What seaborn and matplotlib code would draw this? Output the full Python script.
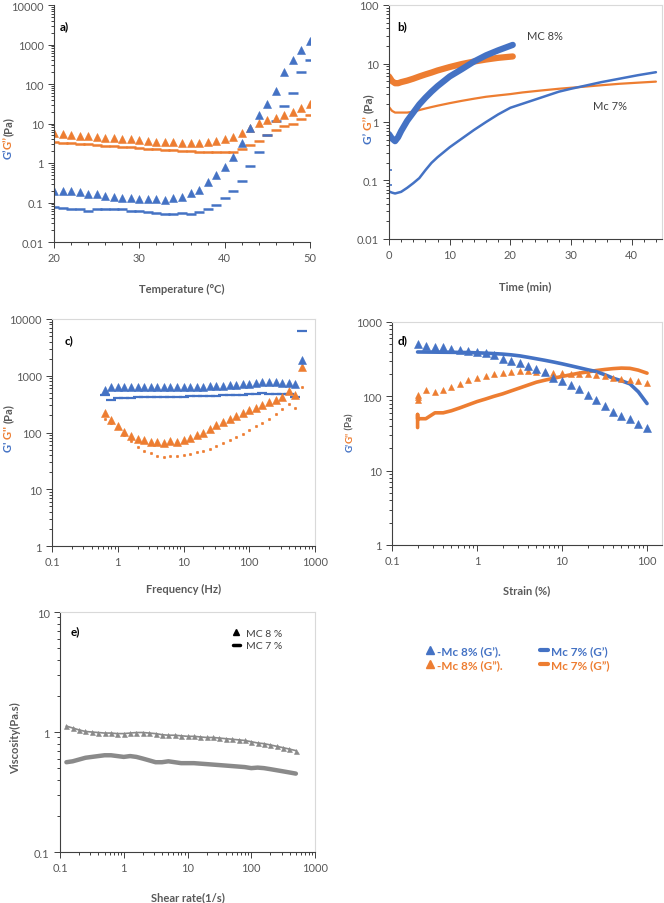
import numpy as np
import pandas as pd
import matplotlib
matplotlib.use("Agg")
import matplotlib.pyplot as plt
import seaborn as sns
from matplotlib.ticker import LogLocator, FuncFormatter, NullFormatter, MultipleLocator
from matplotlib.lines import Line2D

# ---------------- data ----------------
# a) temperature sweep
temp = list(range(20, 51))
a_g1_8 = [0.19, 0.19, 0.19, 0.18, 0.16, 0.16, 0.15, 0.14, 0.13, 0.13, 0.125, 0.125, 0.12, 0.115, 0.13,
          0.14, 0.17, 0.21, 0.33, 0.5, 0.8, 1.45, 3.2, 7.7, 16.5, 32, 65, 200, 405, 720, 1200]
a_g1_7 = [0.076, 0.074, 0.068, 0.068, 0.062, 0.07, 0.07, 0.068, 0.068, 0.06, 0.06, 0.057, 0.055, 0.051, 0.05,
          0.053, 0.05, 0.057, 0.067, 0.085, 0.13, 0.2, 0.36, 0.85, 1.9, 5.0, 11.7, 27, 60, 200, 415]
a_g2_8 = [5.6, 5.4, 5.1, 4.8, 4.8, 4.5, 4.2, 4.2, 4.0, 4.0, 3.8, 3.6, 3.5, 3.4, 3.4,
          3.2, 3.2, 3.2, 3.4, 3.6, 4.0, 4.5, 5.8, 7.8, 10.5, 12.5, 14, 16.5, 20, 25, 32]
a_g2_7 = [3.4, 3.3, 3.2, 3.0, 3.0, 2.8, 2.7, 2.7, 2.55, 2.55, 2.4, 2.3, 2.3, 2.15, 2.15,
          2.0, 2.0, 1.9, 1.9, 1.9, 1.9, 1.95, 2.2, 2.8, 3.6, 5.0, 6.8, 8.5, 9.8, 13, 16.5]

# b) time sweep
b_t8 = [0, 0.5, 1, 1.5, 2, 3, 4, 5, 6, 7, 8, 10, 12, 14, 16, 18, 20.4]
b_g1_8 = [0.62, 0.52, 0.47, 0.55, 0.7, 1.05, 1.45, 2.0, 2.6, 3.3, 4.1, 6.0, 8.0, 10.8, 13.8, 16.8, 20.8]
b_g2_8 = [6.0, 5.0, 4.6, 4.6, 4.8, 5.1, 5.5, 6.0, 6.5, 7.0, 7.6, 8.7, 9.8, 10.8, 11.7, 12.5, 13.2]
b_t7 = [0, 0.5, 1, 2, 3, 4, 5, 6, 7, 8, 10, 12, 14, 16, 18, 20, 22, 25, 28, 30, 32, 35, 38, 41, 44]
b_g1_7 = [0.065, 0.062, 0.06, 0.064, 0.075, 0.09, 0.11, 0.15, 0.2, 0.25, 0.37, 0.52, 0.73, 1.0, 1.35,
          1.75, 2.05, 2.6, 3.3, 3.7, 4.1, 4.8, 5.5, 6.3, 7.1]
b_g2_7 = [1.8, 1.55, 1.45, 1.45, 1.45, 1.5, 1.6, 1.7, 1.8, 1.9, 2.1, 2.3, 2.5, 2.7, 2.85,
          3.0, 3.2, 3.45, 3.7, 3.85, 4.0, 4.25, 4.5, 4.7, 4.9]
b_start_t = [0, 0]
b_start_g1_7 = [0.15, 0.085]

# c) frequency sweep
freq = [0.63, 0.79, 1.0, 1.26, 1.58, 2.0, 2.51, 3.16, 3.98, 5.01, 6.31, 7.94, 10, 12.6, 15.8, 20,
        25.1, 31.6, 39.8, 50.1, 63.1, 79.4, 100, 126, 158, 200, 251, 316, 398, 501, 631]
c_g1_8 = [550, 630, 630, 630, 625, 625, 625, 625, 625, 625, 625, 625, 625, 630, 635, 645,
          650, 655, 665, 680, 690, 705, 720, 750, 790, 790, 770, 750, 740, 720, 1930]
c_g1_7 = [460, 380, 400, 405, 410, 415, 415, 420, 420, 420, 425, 425, 430, 435, 435, 440,
          440, 445, 450, 455, 460, 465, 470, 475, 490, 485, 480, 475, 470, 420, 6200]
c_g2_8 = [222, 166, 129, 101, 86, 78, 73, 68, 67, 65, 70, 68, 74, 80, 92, 100,
          113, 136, 155, 170, 193, 218, 245, 275, 310, 340, 380, 430, 530, 450, 1400]
c_g2_7 = [175, 150, 118, 90, 70, 55, 48, 43, 38, 37, 38, 38, 40, 42, 45, 48,
          52, 58, 65, 73, 82, 95, 110, 128, 150, 175, 210, 260, 320, 270, 630]

# d) strain sweep
strain = [0.2, 0.25, 0.32, 0.4, 0.5, 0.63, 0.79, 1.0, 1.26, 1.58, 2.0, 2.5, 3.2, 4.0,
          5.0, 6.3, 7.9, 10, 12.6, 15.8, 20, 25, 32, 40, 50, 63, 79, 100]
d_g1_8 = [510, 470, 455, 455, 437, 424, 407, 394, 378, 355, 320, 300, 277, 252,
          230, 212, 179, 163, 143, 124, 103, 88, 73, 62, 55, 49, 43, 38]
d_g1_7 = [395, 394, 393, 392, 391, 390, 388, 385, 381, 376, 370, 362, 350, 335,
          320, 305, 290, 274, 258, 243, 228, 216, 195, 175, 162, 147, 115, 80]
d_g2_8 = [97, 120, 114, 123, 133, 147, 166, 176, 187, 197, 205, 211, 216, 216,
          211, 211, 207, 203, 201, 200, 200, 195, 185, 176, 172, 166, 161, 150]
d_g2_7 = [50, 50, 60, 60, 64, 70, 77, 85, 92, 100, 108, 118, 130, 142,
          155, 165, 175, 185, 195, 205, 213, 222, 230, 236, 240, 238, 225, 205]
d_start_x = [0.2, 0.2]
d_start_g2_8 = [88, 105]
d_start_g2_7 = [38, 57]

# e) flow curve
shear = [0.126, 0.158, 0.2, 0.251, 0.316, 0.398, 0.501, 0.631, 0.794, 1.0, 1.26, 1.58, 2.0,
         2.51, 3.16, 3.98, 5.01, 6.31, 7.94, 10, 12.6, 15.8, 20, 25.1, 31.6, 39.8, 50.1,
         63.1, 79.4, 100, 126, 158, 200, 251, 316, 398, 501]
e_visc_8 = [1.12, 1.08, 1.04, 1.01, 1.0, 0.99, 0.98, 0.98, 0.97, 0.97, 0.98, 0.99, 0.99,
            0.98, 0.97, 0.95, 0.94, 0.94, 0.93, 0.92, 0.92, 0.91, 0.9, 0.9, 0.89, 0.88, 0.87,
            0.86, 0.85, 0.83, 0.81, 0.8, 0.78, 0.76, 0.74, 0.72, 0.70]
e_visc_7 = [0.56, 0.57, 0.59, 0.61, 0.62, 0.63, 0.64, 0.64, 0.63, 0.62, 0.63, 0.62, 0.60,
            0.58, 0.56, 0.56, 0.57, 0.56, 0.55, 0.55, 0.55, 0.545, 0.54, 0.535, 0.53, 0.525, 0.52,
            0.515, 0.51, 0.50, 0.505, 0.50, 0.49, 0.48, 0.47, 0.46, 0.45]

# ---------------- style ----------------
sns.set_style("ticks")
plt.rcParams['font.family'] = ['Lato', 'DejaVu Sans']

BLUE = '#4472C4'
ORANGE = '#ED7D31'
TXT = '#595959'
GRAY = '#8A8A8A'
W, H = 664, 904

fig = plt.figure(figsize=(W / 100, H / 100), dpi=100)


def px_axes(x0, y0, x1, y1):
    return fig.add_axes([x0 / W, 1 - y1 / H, (x1 - x0) / W, (y1 - y0) / H])


def log_axis(axis):
    axis.set_major_locator(LogLocator(10))
    axis.set_minor_locator(LogLocator(10, subs=np.arange(2, 10)))
    axis.set_major_formatter(FuncFormatter(lambda v, p: f'{v:g}'))
    axis.set_minor_formatter(NullFormatter())


def decorate(ax, xlabel, pad, box=True):
    ax.tick_params(which='both', colors='#404040', labelcolor=TXT, labelsize=8, width=0.7)
    ax.tick_params(which='major', length=4)
    ax.tick_params(which='minor', length=2)
    for s in ['left', 'bottom']:
        ax.spines[s].set_color('#404040')
        ax.spines[s].set_linewidth(0.8)
    for s in ['top', 'right']:
        ax.spines[s].set_color('#D9D9D9')
        ax.spines[s].set_linewidth(0.8)
        ax.spines[s].set_visible(box)
    ax.set_xlabel(xlabel, fontsize=8, fontweight='bold', color=TXT, labelpad=pad)
    ax.set_ylabel('')


def pts(ax, x, y, color, marker, ms, mew=0.4):
    sns.lineplot(x=x, y=y, ax=ax, color=color, marker=marker, markersize=ms,
                 markeredgewidth=mew, markeredgecolor=color, linestyle='none',
                 estimator=None, sort=False, legend=False)


def line(ax, x, y, color, lw):
    sns.lineplot(x=x, y=y, ax=ax, color=color, lw=lw, estimator=None, sort=False, legend=False)


def ylabel_parts(xc, yc, parts, size=8):
    # rotated label built from differently coloured pieces, stacked bottom-up
    r = fig.canvas.get_renderer()
    objs = []
    for s, c in parts:
        t = fig.text(0, 0, s, rotation=90, fontsize=size, fontweight='bold', color=c,
                     ha='center', va='bottom')
        objs.append(t)
    hs = [t.get_window_extent(r).height for t in objs]
    yb = yc + sum(hs) / 2  # pixel from top, bottom end of the label
    for t, h in zip(objs, hs):
        t.set_position((xc / W, 1 - yb / H))
        yb -= h


def panel_label(x, y, s):
    fig.text(x / W, 1 - y / H, s, fontsize=8.5, fontweight='bold', color='black', va='center')


# ---------------- a) ----------------
ax = px_axes(54, 6, 310, 243)
ax.set_yscale('log')
pts(ax, temp, a_g2_7, ORANGE, '_', 6.5, 1.8)
pts(ax, temp, a_g1_7, BLUE, '_', 6.5, 1.8)
pts(ax, temp, a_g2_8, ORANGE, '^', 6)
pts(ax, temp, a_g1_8, BLUE, '^', 6)
ax.set_xlim(20, 50)
ax.set_ylim(0.01, 10000)
ax.xaxis.set_major_locator(MultipleLocator(10))
ax.xaxis.set_minor_locator(MultipleLocator(2))
log_axis(ax.yaxis)
decorate(ax, 'Temperature (°C)', 14, box=False)
panel_label(60, 27, 'a)')

# ---------------- b) ----------------
ax = px_axes(389, 6, 662, 240)
ax.set_yscale('log')
line(ax, b_t7, b_g2_7, ORANGE, 1.6)
line(ax, b_t7, b_g1_7, BLUE, 1.8)
pts(ax, b_start_t, b_start_g1_7, BLUE, '_', 4, 1.2)
line(ax, b_t8, b_g2_8, ORANGE, 4.5)
line(ax, b_t8, b_g1_8, BLUE, 4.5)
ax.set_xlim(0, 45)
ax.set_ylim(0.01, 100)
ax.xaxis.set_major_locator(MultipleLocator(10))
ax.xaxis.set_minor_locator(MultipleLocator(2))
log_axis(ax.yaxis)
decorate(ax, 'Time (min)', 14)
panel_label(397, 27, 'b)')
fig.text(545 / W, 1 - 37 / H, 'MC 8%', fontsize=8, color='#404040', ha='center', va='center')
fig.text(610 / W, 1 - 107 / H, 'Mc 7%', fontsize=8, color='#404040', ha='center', va='center')

# ---------------- c) ----------------
ax = px_axes(52, 320, 315, 547)
ax.set_xscale('log')
ax.set_yscale('log')
pts(ax, freq, c_g2_7, ORANGE, 'o', 1.8)
pts(ax, freq, c_g1_7, BLUE, '_', 7, 1.6)
pts(ax, freq, c_g2_8, ORANGE, '^', 6)
pts(ax, freq, c_g1_8, BLUE, '^', 6)
ax.set_xlim(0.1, 1000)
ax.set_ylim(1, 10000)
log_axis(ax.xaxis)
log_axis(ax.yaxis)
decorate(ax, 'Frequency (Hz)', 11)
panel_label(65, 341, 'c)')

# ---------------- d) ----------------
ax = px_axes(392, 323, 662, 546)
ax.set_xscale('log')
ax.set_yscale('log')
line(ax, d_start_x + strain, d_start_g2_7 + d_g2_7, ORANGE, 2.6)
line(ax, strain, d_g1_7, BLUE, 2.6)
pts(ax, d_start_x + strain, d_start_g2_8 + d_g2_8, ORANGE, '^', 4)
pts(ax, strain, d_g1_8, BLUE, '^', 6)
ax.set_xlim(0.1, 150)
ax.set_ylim(1, 1000)
log_axis(ax.xaxis)
log_axis(ax.yaxis)
decorate(ax, 'Strain (%)', 13)
panel_label(398, 341, 'd)')

# ---------------- e) ----------------
ax = px_axes(60, 613, 315, 853)
ax.set_xscale('log')
ax.set_yscale('log')
line(ax, shear, e_visc_7, GRAY, 3.2)
line(ax, shear, e_visc_8, GRAY, 1.2)
pts(ax, shear, e_visc_8, GRAY, '^', 3.6)
ax.set_xlim(0.1, 1000)
ax.set_ylim(0.1, 10)
log_axis(ax.xaxis)
log_axis(ax.yaxis)
decorate(ax, 'Shear rate(1/s)', 13)
panel_label(71, 632, 'e)')
e_handles = [Line2D([], [], marker='^', ls='none', color='black', ms=5),
             Line2D([], [], ls='-', lw=2.5, color='black')]
ax.legend(e_handles, ['MC 8 %', 'MC 7 %'], loc='upper left', bbox_to_anchor=(0.64, 0.97),
          frameon=False, fontsize=7.5, handlelength=0.7, handletextpad=0.6,
          labelspacing=0.3, labelcolor='#404040')

# ---------------- y labels ----------------
ylabel_parts(8, 138, [("G’", BLUE), ("G’’", ORANGE), ("(Pa)", TXT)])
ylabel_parts(368, 119, [("G’ ", BLUE), ("G’’ ", ORANGE), ("(Pa)", TXT)], size=8.5)
ylabel_parts(8, 428, [("G' ", BLUE), ("G'' ", ORANGE), ("(Pa)", TXT)])
ylabel_parts(350, 433, [("G'", BLUE), ("G''", ORANGE), (" (Pa)", TXT)], size=7)
ylabel_parts(16, 738, [("Viscosity(Pa.s)", TXT)])

# ---------------- shared legend ----------------
handles = [Line2D([], [], marker='^', ls='none', color=BLUE, ms=6),
           Line2D([], [], marker='^', ls='none', color=ORANGE, ms=6),
           Line2D([], [], ls='-', lw=3, color=BLUE),
           Line2D([], [], ls='-', lw=3, color=ORANGE)]
labels = ['-Mc 8% (G’).', '-Mc 8% (G”).', 'Mc 7% (G’)', 'Mc 7% (G”)']
fig.legend(handles, labels, loc='center', bbox_to_anchor=(518 / W, 1 - 659 / H), ncol=2,
           frameon=False, handlelength=0.6, handletextpad=0.3, columnspacing=3.2,
           labelspacing=0.25, labelcolor='linecolor', prop={'weight': 'bold', 'size': 8.5})

fig.savefig('out.png', dpi=100)
